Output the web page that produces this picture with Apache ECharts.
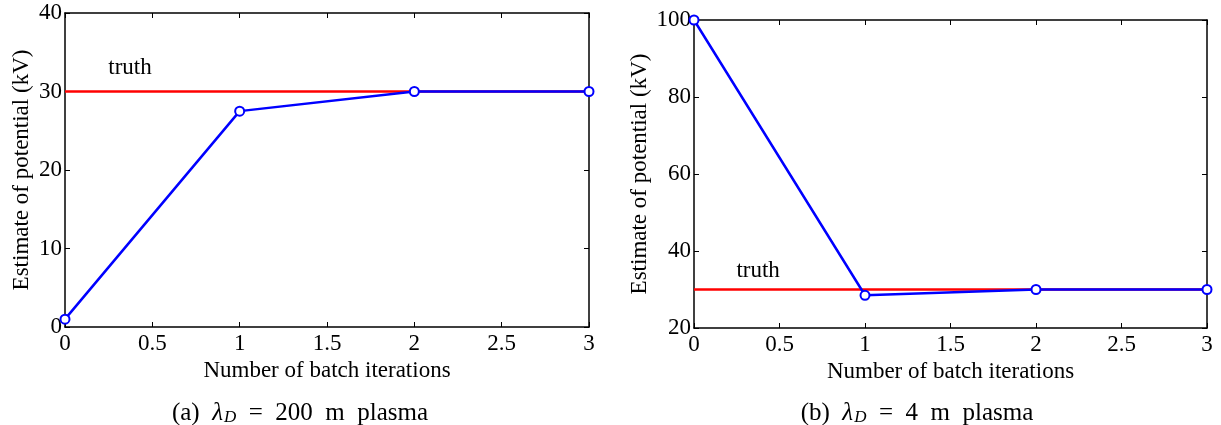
<!DOCTYPE html>
<html>
<head>
<meta charset="utf-8">
<script src="https://cdn.jsdelivr.net/npm/echarts@6/dist/echarts.min.js"></script>
<style>
  html, body { margin: 0; padding: 0; background: #fff; }
  #chart { width: 1221px; height: 425px; }
</style>
</head>
<body>
<div id="chart"></div>
<script>
// Batch iterations on the horizontal axis
const iterations = [0, 1, 2, 3];
// Potential estimates (kV) per iteration
const estimateA = [1, 27.5, 30, 30];     // λD = 200 m plasma
const estimateB = [100, 28.5, 30, 30];   // λD = 4 m plasma
// True potential (kV)
const truthValue = 30;
// Where the "truth" caption sits, in data coordinates [x, y]
const truthLabelA = [0.372, 33];
const truthLabelB = [0.375, 34.8];
// Axis tick settings
const xTicks = { min: 0, max: 3, interval: 0.5 };
const yTicksA = { min: 0, max: 40, interval: 10 };
const yTicksB = { min: 20, max: 100, interval: 20 };

const FONT = '"Liberation Serif", "DejaVu Serif", serif';
const BLUE = '#0000ff';
const RED = '#ff0000';

function pairs(xs, ys) { return xs.map((x, i) => [x, ys[i]]); }

function xAxisPair(gridIndex) {
  const base = {
    type: 'value', gridIndex, min: xTicks.min, max: xTicks.max, interval: xTicks.interval,
    splitLine: { show: false },
    axisLine: { show: true, onZero: false, lineStyle: { color: '#000', width: 1.5 } },
    axisTick: { show: true, inside: true, length: 5, lineStyle: { color: '#000', width: 1 } }
  };
  return [
    Object.assign({}, base, {
      position: 'bottom',
      name: 'Number of batch iterations', nameLocation: 'middle', nameGap: 25,
      nameTextStyle: { fontFamily: FONT, fontSize: 23, color: '#000' },
      axisLabel: {
        fontFamily: FONT, fontSize: 23, color: '#000', margin: 5,
        formatter: v => String(v)
      }
    }),
    Object.assign({}, base, { position: 'top', axisLabel: { show: false } })
  ];
}

function yAxisPair(gridIndex, t, nameGap) {
  const base = {
    type: 'value', gridIndex, min: t.min, max: t.max, interval: t.interval,
    splitLine: { show: false },
    axisLine: { show: true, onZero: false, lineStyle: { color: '#000', width: 1.5 } },
    axisTick: { show: true, inside: true, length: 5, lineStyle: { color: '#000', width: 1 } }
  };
  return [
    Object.assign({}, base, {
      position: 'left',
      name: 'Estimate of potential (kV)', nameLocation: 'middle', nameGap: nameGap,
      nameTextStyle: { fontFamily: FONT, fontSize: 23, color: '#000' },
      axisLabel: { fontFamily: FONT, fontSize: 23, color: '#000', margin: 3 }
    }),
    Object.assign({}, base, { position: 'right', axisLabel: { show: false } })
  ];
}

function truthSeries(xAxisIndex, yAxisIndex) {
  return {
    type: 'line', xAxisIndex, yAxisIndex, silent: true,
    data: [[xTicks.min, truthValue], [xTicks.max, truthValue]],
    symbol: 'none', lineStyle: { color: RED, width: 2.5 },
    z: 2
  };
}

// Text-only point carrying the "truth" note
function truthLabel(xAxisIndex, yAxisIndex, at) {
  return {
    type: 'scatter', xAxisIndex, yAxisIndex, silent: true,
    data: [at], symbolSize: 2,
    itemStyle: { color: 'rgba(255,255,255,0)' },
    label: {
      show: true, position: 'inside', formatter: 'truth',
      fontFamily: FONT, fontSize: 23, color: '#000',
      opacity: 1, textBorderWidth: 0, textShadowBlur: 0
    },
    z: 4
  };
}

function estimateSeries(xAxisIndex, yAxisIndex, values) {
  return {
    type: 'line', xAxisIndex, yAxisIndex, silent: true,
    data: pairs(iterations, values),
    symbol: 'circle', symbolSize: 9, showAllSymbol: true,
    itemStyle: { color: '#fff', borderColor: BLUE, borderWidth: 2 },
    lineStyle: { color: BLUE, width: 2.5 },
    z: 3
  };
}

function caption(letter, value, centerX) {
  return {
    type: 'text', x: centerX, y: 413,
    style: {
      text: '{n|(' + letter + ')  }{i|λ}{s|D}{n|  =  ' + value + '  m  plasma}',
      rich: {
        n: { fontFamily: FONT, fontSize: 25, fill: '#000' },
        i: { fontFamily: FONT, fontSize: 25, fontStyle: 'italic', fill: '#000' },
        s: { fontFamily: FONT, fontSize: 17, fontStyle: 'italic', fill: '#000', padding: [10, 0, 0, 1] }
      },
      align: 'center', verticalAlign: 'middle',
      fill: '#000'
    }
  };
}

const chart = echarts.init(document.getElementById('chart'), null, { renderer: 'canvas' });
const xA = xAxisPair(0), xB = xAxisPair(1);
const yA = yAxisPair(0, yTicksA, 32), yB = yAxisPair(1, yTicksB, 43);

chart.setOption({
  animation: false,
  backgroundColor: '#fff',
  grid: [
    { left: 65, top: 13, width: 524, height: 314 },
    { left: 694, top: 20, width: 513, height: 308 }
  ],
  xAxis: [xA[0], xA[1], xB[0], xB[1]],
  yAxis: [yA[0], yA[1], yB[0], yB[1]],
  series: [
    truthSeries(0, 0),
    estimateSeries(0, 0, estimateA),
    truthLabel(0, 0, truthLabelA),
    truthSeries(2, 2),
    estimateSeries(2, 2, estimateB),
    truthLabel(2, 2, truthLabelB)
  ],
  graphic: [
    caption('a', '200', 300),
    caption('b', '4', 917)
  ]
});
</script>
</body>
</html>
